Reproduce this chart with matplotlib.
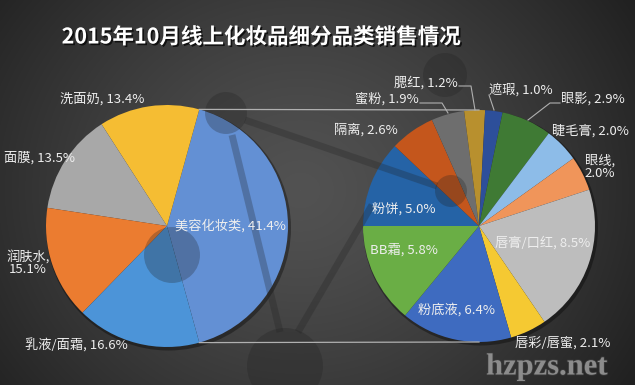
import numpy as np
import matplotlib
matplotlib.use("Agg")
import matplotlib.pyplot as plt
from matplotlib.patches import Circle
import matplotlib.patheffects as pe

plt.rcParams['font.family'] = ['Noto Sans CJK SC', 'DejaVu Sans']

# ---------------- data ----------------
title = "2015年10月线上化妆品细分品类销售情况"
main_labels = ["美容化妆类", "洗面奶", "面膜", "润肤水", "乳液/面霜"]
main_values = [41.4, 13.4, 13.5, 15.1, 16.6]
sub_labels = ["粉饼", "隔离", "蜜粉", "腮红", "遮瑕", "眼影", "睫毛膏", "眼线",
              "唇膏/口红", "唇彩/唇蜜", "粉底液", "BB霜"]
sub_values = [5.0, 2.6, 1.9, 1.2, 1.0, 2.9, 2.0, 2.0, 8.5, 2.1, 6.4, 5.8]

# ---------------- style ----------------
main_colors = ['#6390D4', '#F5BD33', '#A8A8A8', '#EB7C30', '#4C94D8']
sub_colors = ['#2563A6', '#C4561C', '#6E6E6E', '#B8902E', '#2D4F9A', '#3F7A34',
              '#8DBCE8', '#F0955A', '#BDBDBD', '#F5C932', '#3E6BC0', '#6AAE45']

W, H = 635, 385
def Y(y):
    return H - y

fig = plt.figure(figsize=(6.35, 3.85), dpi=100)
ax = fig.add_axes([0, 0, 1, 1])

# background radial gradient
yy, xx = np.mgrid[0:H, 0:W]
d = np.sqrt(((xx - 300) / 1.0) ** 2 + ((yy - 190) / 0.9) ** 2)
d = d / d.max()
val = 82 - 50 * d ** 1.3
img = np.dstack([val, val, val]) / 255.0
ax.imshow(img, extent=[0, W, 0, H], origin='upper', zorder=0, aspect='auto')

# pies
lc, lr = (167, Y(226)), 121
rc, rr = (479, Y(226)), 116
tot_main = sum(main_values)
start_main = -main_values[0] / tot_main * 180
for c, r in [(lc, lr), (rc, rr)]:
    ax.add_patch(Circle((c[0] + 1.5, c[1] - 2), r + 1.5, color='black', alpha=0.35, zorder=1, lw=0))
ax.pie(main_values, colors=main_colors, startangle=start_main, counterclock=True,
       center=lc, radius=lr, wedgeprops=dict(linewidth=0, zorder=2))
ax.pie(sub_values, colors=sub_colors, startangle=180, counterclock=False,
       center=rc, radius=rr, wedgeprops=dict(linewidth=0, zorder=2))

# decorative molecule overlay
dec = dict(color='#202020', alpha=0.27, zorder=3, lw=0)
nodes = {'A': (226, 113, 21), 'B': (172, 255, 28), 'C': (285, 366, 38),
         'D': (451, 191, 16), 'E': (445, 75, 22)}
for k, (x, y, r) in nodes.items():
    ax.add_patch(Circle((x, Y(y)), r, **dec))
for (x1, y1), (x2, y2) in [((232, 135), (280, 332)), ((245, 120), (437, 186)),
                           ((298, 332), (372, 205))]:
    ax.plot([x1, x2], [Y(y1), Y(y2)], color='#202020', alpha=0.27, lw=5,
            solid_capstyle='butt', zorder=3)

# connector lines between pies
ang = np.deg2rad(main_values[0] / tot_main * 180)
tx = lc[0] + lr * np.cos(ang)
ax.plot([tx, rc[0]], [lc[1] + lr * np.sin(ang), rc[1] + rr], color='#B0B0B0', lw=0.9, zorder=4)
ax.plot([tx, rc[0]], [lc[1] - lr * np.sin(ang), rc[1] - rr], color='#B0B0B0', lw=0.9, zorder=4)

# labels
tc = '#EEEEEE'
fs = 9.5
def lab(name, v, x, y, wrap=False):
    s = f"{name},\n{v:.1f}%" if wrap else f"{name}, {v:.1f}%"
    ax.text(x, Y(y), s, color=tc, fontsize=fs, ha='center', va='center',
            linespacing=1.0, zorder=6)

main_pos = [(230, 226, False), (102, 99, False), (40, 158, False), (28, 263, True), (76, 346, False)]
for n, v, (x, y, w) in zip(main_labels, main_values, main_pos):
    lab(n, v, x, y, w)

sub_pos = [(404, 209, False), (366, 130, False), (387, 99, False), (426, 83, False),
           (521, 90, False), (593, 99, False), (590, 131, False), (600, 167, True),
           (543, 243, False), (563, 343, False), (457, 310, False), (404, 250, False)]
for n, v, (x, y, w) in zip(sub_labels, sub_values, sub_pos):
    lab(n, v, x, y, w)

# leader lines
for pts in [[(459, 86), (471, 86), (475, 110)],
            [(420, 103), (442, 103), (448, 113)],
            [(489, 95), (494, 110)],
            [(560, 103), (550, 103), (528, 120)]]:
    xs = [p[0] for p in pts]
    ys = [Y(p[1]) for p in pts]
    ax.plot(xs, ys, color='#B0B0B0', lw=0.8, zorder=5)

# title
ax.text(261, Y(37), title, color='white', fontsize=15.5, fontweight='bold',
        ha='center', va='center', zorder=7,
        path_effects=[pe.withSimplePatchShadow(offset=(1.2, -1.2), shadow_rgbFace='black', alpha=0.7)])

# watermark
ax.text(547, Y(367), "hzpzs.net", color='#8C8C8C', fontsize=22, fontweight='bold',
        family='Liberation Serif', ha='center', va='center', zorder=7,
        path_effects=[pe.withStroke(linewidth=1.2, foreground='#3A3A3A')])

ax.set_xlim(0, W)
ax.set_ylim(0, H)
ax.set_aspect('auto')
ax.axis('off')
fig.savefig("out.png", dpi=100)
